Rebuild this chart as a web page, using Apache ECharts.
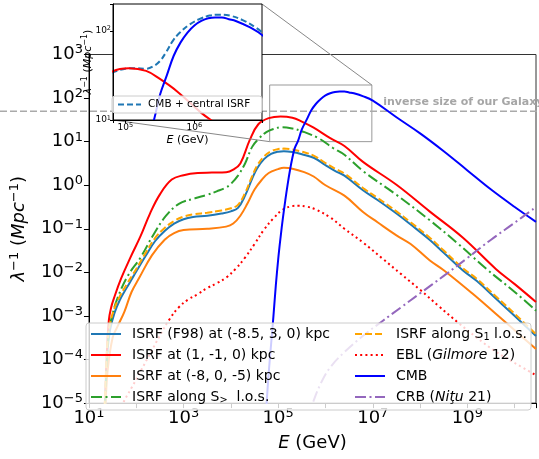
<!DOCTYPE html>
<html><head><meta charset="utf-8">
<script src="https://cdn.jsdelivr.net/npm/echarts@6/dist/echarts.min.js"></script>
<style>html,body{margin:0;padding:0;background:#fff}#c{width:539px;height:459px}</style>
</head><body><div id="c"></div>
<script>
// ---- data (log10 of E in GeV, log10 of inverse mean free path in Mpc^-1) ----
const logE_F98 = [1.30,1.34,1.37,1.40,1.45,1.54,1.65,1.80,1.92,2.0,2.2,2.4,2.6,2.8,3.0,3.2,3.5,3.8,4.0,4.15,4.3,4.45,4.55,4.7,4.85,5.0,5.12,5.3,5.5,5.75,6.0,6.2,6.4,6.8,7.1,7.5,7.8,8.2,8.5,8.9,9.2,9.6,10.0,10.45];
const logY_F98 = [-6,-5,-4.2,-3.7,-3.3,-2.93,-2.64,-2.35,-2.13,-1.98,-1.62,-1.28,-1.05,-0.88,-0.78,-0.73,-0.70,-0.65,-0.60,-0.52,-0.24,0.15,0.38,0.60,0.72,0.77,0.78,0.76,0.71,0.63,0.46,0.33,0.22,-0.12,-0.34,-0.65,-0.9,-1.25,-1.55,-1.95,-2.2,-2.6,-3.0,-3.46];
const logY_S1 = [-5.8,-4.8,-4.0,-3.5,-3.15,-2.82,-2.55,-2.27,-2.06,-1.92,-1.55,-1.21,-0.98,-0.82,-0.72,-0.67,-0.63,-0.58,-0.53,-0.45,-0.18,0.21,0.44,0.66,0.78,0.83,0.84,0.82,0.77,0.68,0.51,0.38,0.27,-0.07,-0.29,-0.6,-0.85,-1.2,-1.5,-1.9,-2.15,-2.55,-2.95,-3.42];
const logE_R = [1.30,1.34,1.38,1.42,1.47,1.52,1.68,1.88,2.09,2.29,2.50,2.75,3.0,3.3,3.6,3.9,4.05,4.2,4.4,4.58,4.8,5.05,5.3,5.5,5.75,6.1,6.4,6.8,7.5,8.2,8.9,9.6,10.0,10.45];
const logY_R = [-6,-5,-3.8,-3.1,-2.8,-2.62,-2.14,-1.65,-1.17,-0.65,-0.21,0.13,0.23,0.28,0.29,0.30,0.36,0.5,1.04,1.40,1.54,1.58,1.55,1.46,1.32,1.08,0.9,0.53,0.01,-0.6,-1.2,-1.92,-2.27,-2.68];
const logE_O = [1.30,1.35,1.40,1.5,1.6,1.75,1.9,2.06,2.33,2.6,2.8,3.0,3.5,3.9,4.05,4.2,4.35,4.5,4.65,4.8,5.0,5.12,5.3,5.55,5.75,6.0,6.4,6.8,7.1,7.5,7.8,8.2,8.5,9.1,9.6,10.0,10.45];
const logY_O = [-6,-5,-4.2,-3.5,-3.25,-2.9,-2.45,-2.13,-1.61,-1.25,-1.1,-1.03,-1.0,-0.95,-0.88,-0.70,-0.42,-0.1,0.12,0.28,0.37,0.40,0.38,0.30,0.20,0.0,-0.24,-0.62,-0.85,-1.15,-1.35,-1.72,-1.95,-2.48,-2.95,-3.33,-3.76];
const logE_G = [1.30,1.34,1.38,1.43,1.5,1.6,1.82,2.09,2.36,2.63,2.9,3.24,3.5,3.7,3.9,4.0,4.15,4.3,4.45,4.6,4.75,4.9,5.06,5.3,5.5,5.85,6.15,6.4,6.8,7.5,8.2,8.8,9.4,10.0,10.45];
const logY_G = [-6,-5,-4.0,-3.3,-2.95,-2.6,-2.08,-1.66,-1.14,-0.70,-0.43,-0.30,-0.22,-0.14,-0.05,0.03,0.22,0.5,0.88,1.08,1.22,1.29,1.33,1.30,1.24,1.08,0.86,0.70,0.32,-0.22,-0.8,-1.34,-1.92,-2.45,-2.88];
const logE_EBL = [1.65,1.72,1.9,2.1,2.3,2.5,2.7,2.9,3.1,3.3,3.5,3.7,3.9,4.1,4.3,4.5,4.7,4.9,5.1,5.3,5.43,5.6,5.8,6.1,6.4,6.8,7.2,7.6,8.0,8.4,8.8,9.2,9.6,10.0,10.45];
const logY_EBL = [-5.2,-5.0,-4.65,-4.25,-3.85,-3.45,-3.08,-2.8,-2.62,-2.5,-2.36,-2.25,-2.12,-1.92,-1.66,-1.35,-1.02,-0.76,-0.56,-0.48,-0.47,-0.49,-0.56,-0.74,-1.0,-1.32,-1.68,-2.04,-2.4,-2.78,-3.15,-3.5,-3.82,-4.08,-4.36];
const logE_CMB = [4.70,4.755,4.80,4.85,4.90,4.95,5.0,5.05,5.1,5.15,5.2,5.25,5.3,5.35,5.42,5.5,5.6,5.7,5.8,5.9,6.0,6.1,6.2,6.3,6.4,6.5,6.6,6.8,7.0,7.5,8.0,8.5,9.0,9.5,10.0,10.45];
const logY_CMB = [-5.8,-5.0,-4.3,-3.65,-3.0,-2.3,-1.7,-1.2,-0.75,-0.35,0.02,0.35,0.63,0.85,1.02,1.28,1.5,1.72,1.87,1.98,2.06,2.11,2.14,2.15,2.15,2.13,2.11,2.04,1.94,1.56,1.19,0.78,0.34,-0.1,-0.5,-0.84];
const logE_CRB = [5.6,5.73,5.9,6.1,6.4,6.8,7.2,7.6,8.0,8.5,9.0,9.5,10.0,10.45];
const logY_CRB = [-5.4,-5.0,-4.55,-4.18,-3.83,-3.45,-3.12,-2.8,-2.48,-2.08,-1.67,-1.25,-0.86,-0.5];
const logE_SUM = [4.80,5.0,5.135,5.3,5.4,5.5,5.59,5.69,5.79,5.93,6.07,6.22,6.36,6.51,6.70,6.90,7.0];
const logY_SUM = [1.53,1.575,1.58,1.575,1.60,1.66,1.76,1.89,1.98,2.07,2.13,2.17,2.18,2.17,2.12,2.03,1.97];
// axis limits (log10)
const mainLogE = [1, 10.45];
const mainLogY = [-5, 3];
const insetLogE = [4.82, 6.98];
const insetLogY = [1, 2.3];
const galaxyLine = 50; // Mpc^-1
const seriesNames = ['ISRF (F98) at (-8.5, 3, 0) kpc','ISRF at (1, -1, 0) kpc','ISRF at (-8, 0, -5) kpc','ISRF along S> l.o.s.','ISRF along S1 l.o.s.','EBL (Gilmore 12)','CMB','CRB (Niţu 21)'];
const sumName = 'CMB + central ISRF';

// ---- build ----
const FONT = 'DejaVu Sans';
const P = v => Math.pow(10, v);
const pts = (E, Y) => E.map((e, i) => [P(e), P(Y[i])]);
function expLabel(v, onlyOdd) {
  const l = Math.log10(v), e = Math.round(l);
  if (Math.abs(l - e) > 0.02) return '';
  if (onlyOdd && Math.abs(e) % 2 !== 1) return '';
  return '{b|10}{s|' + (e < 0 ? '\u2212' + (-e) : String(e)) + '}';
}
const legendFmt = {
  'ISRF along S> l.o.s.': 'ISRF along S{sub|>}  l.o.s.',
  'ISRF along S1 l.o.s.': 'ISRF along S{sub|1} l.o.s.',
  'EBL (Gilmore 12)': 'EBL ({it|Gilmore} 12)',
  'CRB (Niţu 21)': 'CRB ({it|Niţu} 21)'
};
const richMain = {
  b: {fontSize: 18, lineHeight: 22, fontFamily: FONT, color: '#000'},
  s: {fontSize: 13, lineHeight: 8, verticalAlign: 'top', fontFamily: FONT, color: '#000'}
};
const richInset = {
  b: {fontSize: 9, lineHeight: 11, fontFamily: FONT, color: '#000'},
  s: {fontSize: 6.5, lineHeight: 4, verticalAlign: 'top', fontFamily: FONT, color: '#000'}
};
const nameRich = (fs) => ({
  i: {fontSize: fs, fontStyle: 'italic', fontFamily: FONT, lineHeight: fs + 4, color: '#000'},
  s: {fontSize: Math.round(fs * 0.7), fontFamily: FONT, lineHeight: Math.round(fs * 0.4), verticalAlign: 'top', color: '#000'}
});
const legendText = (fs) => ({
  fontSize: fs, fontFamily: FONT, color: '#000', lineHeight: 16, padding: [0, 0, 0, 6],
  rich: {
    sub: {fontSize: fs * 0.7, fontFamily: FONT, lineHeight: 9, verticalAlign: 'bottom', color: '#000'},
    it: {fontSize: fs, fontFamily: FONT, fontStyle: 'italic', lineHeight: 16, color: '#000'}
  }
});
function line(name, data, color, type, extra) {
  return Object.assign({
    name, type: 'line', data, xAxisIndex: 0, yAxisIndex: 0, showSymbol: false, symbol: 'none',
    smooth: 0.4, clip: true, z: 2,
    lineStyle: {color, width: 2, type: type || 'solid'}, itemStyle: {color}, emphasis: {disabled: true}
  }, extra || {});
}
const DASHDOT = [11, 3.5, 2, 3.5], DASHED = [7, 3], DOTTED = [2, 3.2];
const series = [
  line(seriesNames[0], pts(logE_F98, logY_F98), '#1f77b4'),
  line(seriesNames[1], pts(logE_R, logY_R), '#ff0000'),
  line(seriesNames[2], pts(logE_O, logY_O), '#ff7f0e'),
  line(seriesNames[3], pts(logE_G, logY_G), '#2ca02c', DASHDOT),
  line(seriesNames[4], pts(logE_F98, logY_S1), '#ffa500', DASHED),
  line(seriesNames[5], pts(logE_EBL, logY_EBL), '#ff0000', DOTTED),
  line(seriesNames[6], pts(logE_CMB, logY_CMB), '#0000ff', 'solid', {
    markArea: {silent: true, itemStyle: {color: 'rgba(0,0,0,0)', borderColor: '#999', borderWidth: 1},
      data: [[{xAxis: P(insetLogE[0]), yAxis: P(insetLogY[0])}, {xAxis: P(insetLogE[1]), yAxis: P(insetLogY[1])}]]}
  }),
  line(seriesNames[7], pts(logE_CRB, logY_CRB), '#9467bd', DASHDOT),
  // inset
  line(sumName, pts(logE_SUM, logY_SUM), '#1f77b4', [6, 3], {xAxisIndex: 1, yAxisIndex: 1, z: 11}),
  line('inset-isrf', pts(logE_R, logY_R), '#ff0000', 'solid', {xAxisIndex: 1, yAxisIndex: 1, z: 11}),
  line('inset-cmb', pts(logE_CMB, logY_CMB), '#0000ff', 'solid', {xAxisIndex: 1, yAxisIndex: 1, z: 11})
];
const baseAxis = {
  type: 'log', logBase: 10, splitLine: {show: false},
  axisLine: {lineStyle: {color: '#000', width: 1}},
  axisTick: {show: true, inside: false, length: 5, lineStyle: {color: '#000'}},
  minorTick: {show: false}
};
const noSymbol = {color: 'rgba(0,0,0,0)', borderWidth: 0, opacity: 0};
const option = {
  animation: false,
  backgroundColor: '#fff',
  textStyle: {fontFamily: FONT},
  grid: [
    {left: 78, top: 54.5, right: -2, bottom: 42, show: true, borderColor: '#333', borderWidth: 1, backgroundColor: 'rgba(0,0,0,0)', z: 0},
    {left: 113, top: 4, width: 149, height: 116, show: true, backgroundColor: '#fff', borderColor: '#000', borderWidth: 1, z: 10}
  ],
  xAxis: [
    Object.assign({}, baseAxis, {gridIndex: 0, min: P(mainLogE[0]), max: P(mainLogE[1]),
      axisLabel: {formatter: v => expLabel(v, true), margin: 4, rich: richMain},
      name: '{i|E} (GeV)', nameLocation: 'middle', nameGap: 23,
      nameTextStyle: {fontSize: 18, fontFamily: FONT, color: '#000', lineHeight: 22, verticalAlign: 'top', rich: nameRich(18)}}),
    Object.assign({}, baseAxis, {gridIndex: 1, min: P(insetLogE[0]), max: P(insetLogE[1]), z: 12,
      axisTick: {show: true, length: 3, lineStyle: {color: '#000'}},
      axisLabel: {formatter: v => expLabel(v, false), margin: 2, rich: richInset},
      name: '{i|E} (GeV)', nameLocation: 'middle', nameGap: 12,
      nameTextStyle: {fontSize: 11, fontFamily: FONT, color: '#000', lineHeight: 14, rich: nameRich(11)}})
  ],
  yAxis: [
    Object.assign({}, baseAxis, {gridIndex: 0, min: P(mainLogY[0]), max: P(mainLogY[1]),
      axisLabel: {formatter: v => expLabel(v, false), margin: 6, rich: richMain},
      name: '{i|λ}{s|\u22121} ({i|Mpc}{s|\u22121})', nameLocation: 'middle', nameGap: 42,
      nameTextStyle: {fontSize: 18, fontFamily: FONT, color: '#000', lineHeight: 22, rich: nameRich(18)}}),
    Object.assign({}, baseAxis, {gridIndex: 1, min: P(insetLogY[0]), max: P(insetLogY[1]), z: 12,
      axisTick: {show: true, length: 3, lineStyle: {color: '#000'}},
      axisLabel: {formatter: v => expLabel(v, false), margin: 2, rich: richInset},
      name: '{i|λ}{s|\u22121} ({i|Mpc}{s|\u22121})', nameLocation: 'middle', nameGap: 17, nameMoveOverlap: false,
      nameTextStyle: {fontSize: 11, fontFamily: FONT, color: '#000', lineHeight: 14, rich: nameRich(11)}})
  ],
  legend: [
    {data: seriesNames.slice(0, 4), orient: 'vertical', left: 90, top: 326, itemWidth: 30, itemHeight: 14, itemGap: 5,
      padding: 0, itemStyle: noSymbol, textStyle: legendText(14), formatter: n => legendFmt[n] || n, z: 4, selectedMode: false},
    {data: seriesNames.slice(4), orient: 'vertical', left: 354, top: 326, itemWidth: 30, itemHeight: 14, itemGap: 5,
      padding: 0, itemStyle: noSymbol, textStyle: legendText(14), formatter: n => legendFmt[n] || n, z: 4, selectedMode: false},
    {data: [sumName], orient: 'horizontal', left: 112, top: 96, itemWidth: 23, itemHeight: 10,
      padding: [3, 12, 3, 5], backgroundColor: 'rgba(255,255,255,0.8)', borderColor: '#cccccc', borderWidth: 1, borderRadius: 3,
      itemStyle: noSymbol,
      textStyle: {fontSize: 10.5, fontFamily: FONT, color: '#000', padding: [0, 0, 0, 2]}, z: 13, selectedMode: false}
  ],
  series
};
const chart = echarts.init(document.getElementById('c'), null, {renderer: 'canvas'});
chart.setOption(option);

// overlay elements positioned from data through the axes
const yGal = chart.convertToPixel({gridIndex: 0}, [P(7.22), galaxyLine]);
const iTR = chart.convertToPixel({gridIndex: 1}, [P(insetLogE[1]), P(insetLogY[1])]);
const iBL = chart.convertToPixel({gridIndex: 1}, [P(insetLogE[0]), P(insetLogY[0])]);
const rTR = chart.convertToPixel({gridIndex: 0}, [P(insetLogE[1]), P(insetLogY[1])]);
const rBL = chart.convertToPixel({gridIndex: 0}, [P(insetLogE[0]), P(insetLogY[0])]);
chart.setOption({
  graphic: [
    {type: 'rect', shape: {x: 86, y: 323, width: 445, height: 87, r: 3}, style: {fill: 'rgba(255,255,255,0.8)', stroke: '#cccccc', lineWidth: 1}, z: 3, silent: true},
    {type: 'line', shape: {x1: 0, y1: yGal[1], x2: 539, y2: yGal[1]}, style: {stroke: '#aaaaaa', lineWidth: 1.6, lineDash: [7, 3]}, z: 1, silent: true},
    {type: 'text', x: yGal[0], y: yGal[1] - 4, style: {text: 'inverse size of our Galaxy', font: 'bold 11px "DejaVu Sans"', fill: '#a6a6a6', textAlign: 'left', textVerticalAlign: 'bottom', align: 'left', verticalAlign: 'bottom'}, z: 1, silent: true},
    {type: 'line', shape: {x1: iTR[0], y1: iTR[1], x2: rTR[0], y2: rTR[1]}, style: {stroke: '#888', lineWidth: 1}, z: 5, silent: true},
    {type: 'line', shape: {x1: iBL[0], y1: iBL[1], x2: rBL[0], y2: rBL[1]}, style: {stroke: '#888', lineWidth: 1}, z: 5, silent: true}
  ]
});
</script>
</body></html>
